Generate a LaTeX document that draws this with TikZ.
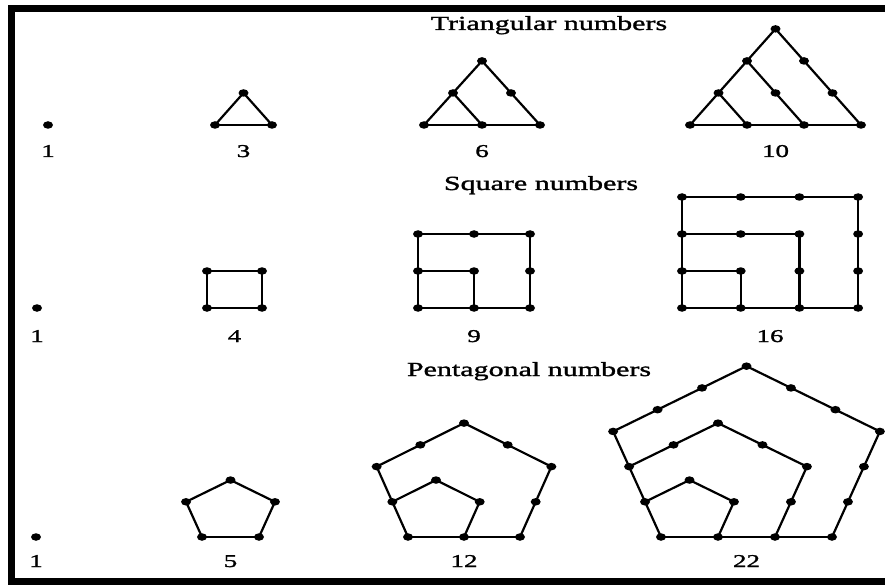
\documentclass[tikz,border=0pt]{standalone}
\usepackage{fontspec}
\setmainfont{Liberation Serif}[FakeStretch=1.5, FakeBold=1.5]
\usetikzlibrary{shapes.geometric, calc}

\begin{document}
\begin{tikzpicture}[
        x=1pt, y=-1pt,
        dot/.style={ellipse, fill, inner sep=0pt, minimum width=10pt, minimum height=7.5pt},
        edge/.style={line width=2.2pt},
        frame/.style={line width=7pt},
        heading/.style={font=\fontsize{20}{24}\selectfont, anchor=base},
        count/.style={font=\fontsize{18}{22}\selectfont, anchor=base}
    ]
    \useasboundingbox (0,0) rectangle (885,585);
    \draw[frame] (885,8.5) -- (11,8.5) -- (11,581) -- (885,581);

    % triangular numbers
    \node[heading] (tri-title) at (549,30) {Triangular numbers};
    \foreach \n/\bx/\u/\lab in {0/48/57/1, 1/215/57/3, 2/424/58/6, 3/690/57/10} {
        \begin{scope}[shift={(\bx,125)}, x=\u pt, y=37pt]
            \foreach \i in {0,...,\n} \foreach \j in {0,...,\n} {
                \pgfmathtruncatemacro\s{\i+\j}
                \ifnum\s>\n\else
                    \node[dot] (t\n-\i-\j) at (\i+\j/2, 0.866*\j) {};
                \fi
            }
            \ifnum\n>0
                \draw[edge] (t\n-0-0.center) -- (t\n-\n-0.center);
                \draw[edge] (t\n-0-0.center) -- (t\n-0-\n.center);
                \foreach \k in {1,...,\n}
                    \draw[edge] (t\n-0-\k.center) -- (t\n-\k-0.center);
            \fi
        \end{scope}
        \node[count] (t\n-num) at (\bx+\n*\u/2, 157) {\lab};
    }

    % square numbers
    \node[heading] (sq-title) at (541,190) {Square numbers};
    \foreach \n/\bx/\u/\lab in {0/37/57/1, 1/207/55/4, 2/418/56/9, 3/682/58.7/16} {
        \begin{scope}[shift={(\bx,308)}, x=\u pt, y=37pt]
            \foreach \i in {0,...,\n} \foreach \j in {0,...,\n}
                \node[dot] (s\n-\i-\j) at (\i,\j) {};
            \ifnum\n>0
                \draw[edge] (s\n-0-0.center) -- (s\n-\n-0.center);
                \draw[edge] (s\n-0-0.center) -- (s\n-0-\n.center);
                \foreach \k in {1,...,\n}
                    \draw[edge] (s\n-0-\k.center) -- (s\n-\k-\k.center) -- (s\n-\k-0.center);
            \fi
        \end{scope}
        \node[count] (s\n-num) at (\bx+\n*\u/2, 342) {\lab};
    }

    % pentagonal numbers
    \node[heading] (pent-title) at (529,376) {Pentagonal numbers};
    \foreach \n/\bx/\u/\lab in {0/36/57/1, 1/202/57/5, 2/408/56/12, 3/661/57/22} {
        \begin{scope}[shift={(\bx,537)}, x=\u pt, y=37pt]
            \node[dot] (p\n-0) at (0,0) {};
            \ifnum\n>0
                \foreach \k in {1,...,\n} {
                    \foreach \m in {0,...,\k}
                        \node[dot] (p\n-\k-a\m) at ($(-0.28*\k,0.951*\k)!\m/\k!(0.5*\k,1.539*\k)$) {};
                    \foreach \m in {1,...,\k} {
                        \node[dot] (p\n-\k-b\m) at ($(0.5*\k,1.539*\k)!\m/\k!(1.28*\k,0.951*\k)$) {};
                        \node[dot] (p\n-\k-c\m) at ($(1.28*\k,0.951*\k)!\m/\k!(\k,0)$) {};
                    }
                    \draw[edge] (p\n-\k-a0.center) -- (p\n-\k-a\k.center) -- (p\n-\k-b\k.center) -- (p\n-\k-c\k.center);
                }
                \draw[edge] (p\n-0.center) -- (p\n-\n-c\n.center);
                \draw[edge] (p\n-0.center) -- (p\n-\n-a0.center);
            \fi
        \end{scope}
        \node[count] (p\n-num) at (\bx+\n*\u/2, 567) {\lab};
    }
\end{tikzpicture}
\end{document}
